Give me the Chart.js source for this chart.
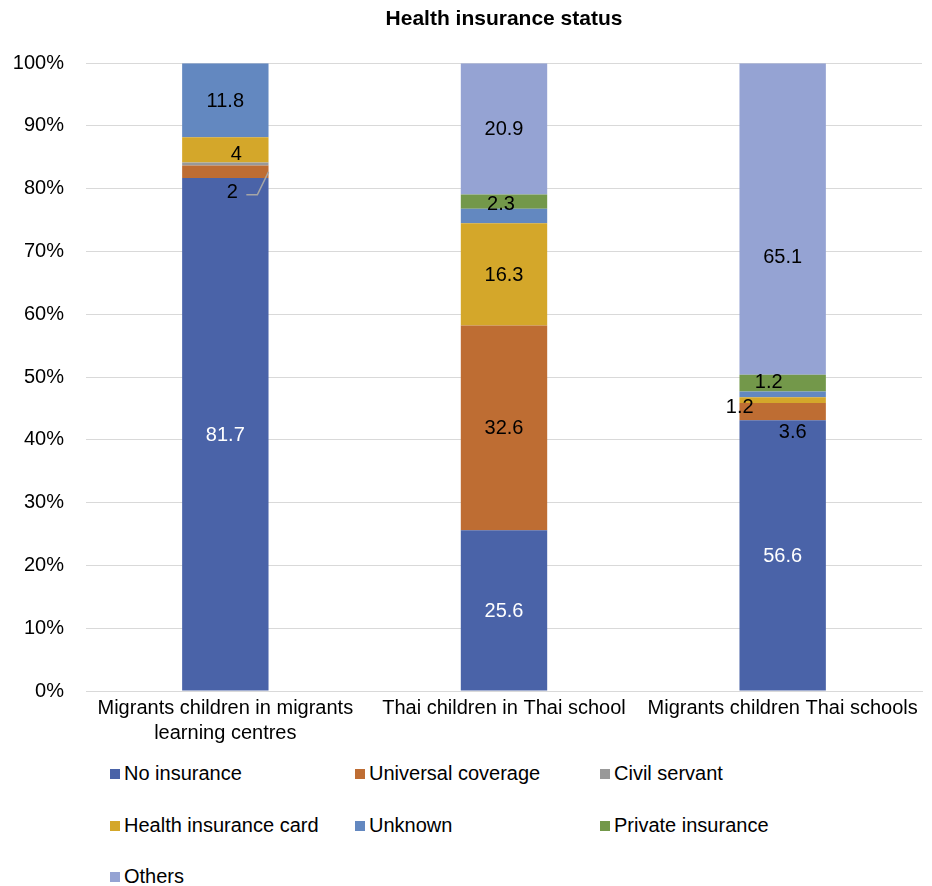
<!DOCTYPE html>
<html>
<head>
<meta charset="utf-8">
<script src="https://cdn.jsdelivr.net/npm/chart.js@4/dist/chart.umd.min.js"></script>
<style>
  body { margin: 0; background: #fff; font-family: "Liberation Sans", Arial, sans-serif; }
  #wrap { position: relative; width: 932px; height: 886px; }
  #chartBox { position: absolute; left: 0; top: 0; width: 932px; height: 755px; }
  .legItem { position: absolute; font-size: 20px; color: #000; line-height: 24px; white-space: nowrap; }
  .legItem span.box { display: inline-block; width: 10px; height: 10px; margin-right: 4px; vertical-align: 1px; }
</style>
</head>
<body>
<div id="wrap">
  <div id="chartBox"><canvas id="healthChart"></canvas></div>
  <div id="legend"></div>
</div>
<script>
// categories and raw values (chart is 100% stacked)
const CATEGORIES = [["Migrants children in migrants", "learning centres"], "Thai children in Thai school", "Migrants children Thai schools"];
const SERIES_NAMES = ["No insurance", "Universal coverage", "Civil servant", "Health insurance card", "Unknown", "Private insurance", "Others"];
const NO_INSURANCE = [81.7, 25.6, 56.6];
const UNIVERSAL = [2, 32.6, 3.6];
const CIVIL_SERVANT = [0.5, 0, 0];
const HEALTH_CARD = [4, 16.3, 1.2];
const UNKNOWN = [11.8, 2.3, 1.2];
const PRIVATE_INS = [0, 2.3, 3.5];
const OTHERS = [0, 20.9, 65.1];
const Y_TICKS = [0, 10, 20, 30, 40, 50, 60, 70, 80, 90, 100];

const COLORS = ['#4a63a8', '#be6d33', '#999999', '#d4a72a', '#6388c0', '#73984a', '#95a3d3'];
const RAW = [NO_INSURANCE, UNIVERSAL, CIVIL_SERVANT, HEALTH_CARD, UNKNOWN, PRIVATE_INS, OTHERS];

// label tweaks, key = dataset:bar
const HIDE_LABEL = { '2:0': 1, '4:1': 1, '5:2': 1 };
const LABEL_OFFSET = {
  '1:0': [7, 21, true],
  '3:0': [11, 5],
  '5:1': [-3, 3],
  '1:2': [10, 21],
  '3:2': [-43, 7],
  '4:2': [-14, -12],
  '6:2': [0, 39]
};

var totals = CATEGORIES.map(function(c, i) {
  return RAW.reduce(function(s, arr) { return s + arr[i]; }, 0);
});

var datasets = RAW.map(function(arr, d) {
  return {
    label: SERIES_NAMES[d],
    data: arr.map(function(v, i) { return v / totals[i] * 100; }),
    raw: arr,
    backgroundColor: COLORS[d],
    borderWidth: 0,
    categoryPercentage: 1,
    barPercentage: 0.31
  };
});

const valueLabels = {
  id: 'valueLabels',
  afterDatasetsDraw(chart) {
    const ctx = chart.ctx;
    ctx.save();
    ctx.font = '20px "Liberation Sans", Arial, sans-serif';
    ctx.textAlign = 'center';
    ctx.textBaseline = 'middle';
    chart.data.datasets.forEach(function(ds, d) {
      chart.getDatasetMeta(d).data.forEach(function(bar, i) {
        const v = ds.raw[i];
        const key = d + ':' + i;
        if (!v || HIDE_LABEL[key]) return;
        const off = LABEL_OFFSET[key] || [0, 1];
        const x = bar.x + off[0];
        const y = (bar.y + bar.base) / 2 + off[1];
        ctx.fillStyle = d === 0 ? '#ffffff' : '#000000';
        ctx.fillText(String(v), x, y);
        if (off[2]) {
          // leader line back to the segment
          ctx.strokeStyle = '#a6a6a6';
          ctx.lineWidth = 1.5;
          ctx.beginPath();
          ctx.moveTo(x + 14, y + 2);
          ctx.lineTo(x + 25, y + 2);
          ctx.lineTo(bar.x + bar.width / 2, (bar.y + bar.base) / 2);
          ctx.stroke();
        }
      });
    });
    ctx.restore();
  }
};

Chart.defaults.font.family = '"Liberation Sans", Arial, sans-serif';
Chart.defaults.font.size = 20;
Chart.defaults.color = '#000';

var myChart = new Chart(document.getElementById('healthChart').getContext('2d'), {
  type: 'bar',
  data: { labels: CATEGORIES, datasets: datasets },
  options: {
    responsive: true,
    maintainAspectRatio: false,
    animation: false,
    layout: { padding: { left: 12, right: 10, top: 0, bottom: 4 } },
    plugins: {
      legend: { display: false },
      tooltip: { enabled: false },
      title: {
        display: true,
        text: 'Health insurance status',
        fullSize: false,
        color: '#000',
        font: { size: 21, weight: 'bold' },
        padding: { top: 7, bottom: 31 }
      }
    },
    scales: {
      x: {
        stacked: true,
        grid: { display: false },
        border: { display: true, color: '#d9d9d9', width: 1 },
        ticks: { padding: -3, maxRotation: 0, autoSkip: false, font: { size: 20, lineHeight: 1.25 } },
        afterFit: function(axis) { axis.height = 60; }
      },
      y: {
        stacked: true,
        min: 0,
        max: 100,
        afterBuildTicks: function(axis) { axis.ticks = Y_TICKS.map(function(v) { return { value: v }; }); },
        grid: { color: '#d9d9d9', lineWidth: 1, drawTicks: false },
        border: { display: false },
        ticks: { padding: 22, callback: function(v) { return v + '%'; } },
        afterFit: function(axis) { axis.width = 74; }
      }
    }
  },
  plugins: [valueLabels]
});

// legend: three columns like the original
var legendPos = [[110, 761], [355, 761], [600, 761], [110, 813], [355, 813], [600, 813], [110, 864]];
var legendHtml = '';
SERIES_NAMES.forEach(function(name, i) {
  legendHtml += '<div class="legItem" style="left:' + legendPos[i][0] + 'px;top:' + legendPos[i][1] + 'px">' +
    '<span class="box" style="background:' + COLORS[i] + '"></span>' + name + '</div>';
});
document.getElementById('legend').innerHTML = legendHtml;
</script>
</body>
</html>
